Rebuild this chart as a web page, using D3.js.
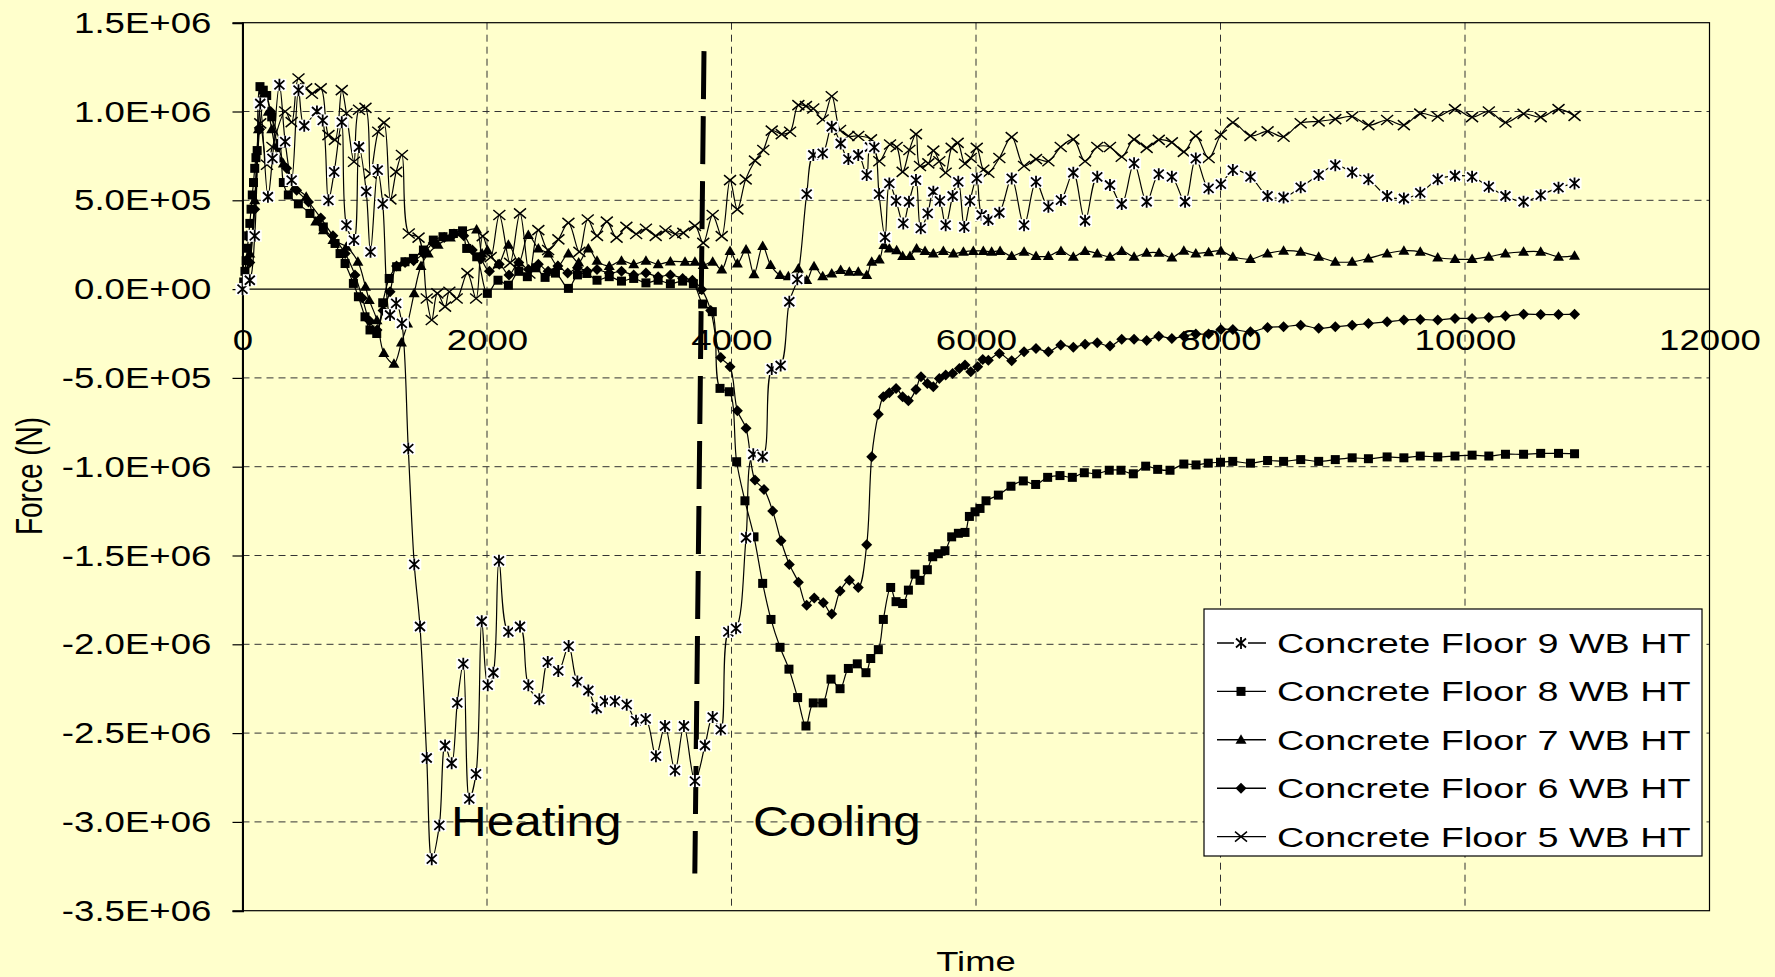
<!DOCTYPE html>
<html>
<head>
<meta charset="utf-8">
<script src="https://cdn.jsdelivr.net/npm/d3@7"></script>
<style>
  body { margin: 0; background: #ffffcc; }
  svg text { font-family: "Liberation Sans", Arial, sans-serif; fill: #000; }
</style>
</head>
<body>
<div id="chart"></div>
<script>
// forces are in units of 1E+05 N, times in s
var unit = 1e5;

var t9 = [0, 60, 100, 145, 208, 245, 302, 349, 402, 458, 505, 609, 656, 703, 750, 812, 850, 912, 953, 1012, 1047, 1106, 1147, 1207, 1257, 1304, 1356, 1405, 1452, 1507, 1548, 1610, 1657, 1711, 1757, 1806, 1855, 1910, 1957, 2006, 2052, 2098, 2175, 2270, 2338, 2428, 2497, 2583, 2668, 2739, 2829, 2897, 2965, 3047, 3143, 3219, 3298, 3382, 3456, 3538, 3611, 3701, 3783, 3846, 3912, 3974, 4037, 4119, 4178, 4255, 4329, 4402, 4473, 4538, 4615, 4669, 4746, 4820, 4893, 4956, 5037, 5106, 5133, 5168, 5207, 5256, 5291, 5346, 5405, 5452, 5509, 5548, 5605, 5651, 5705, 5752, 5809, 5855, 5904, 5951, 6006, 6046, 6101, 6191, 6292, 6393, 6491, 6592, 6695, 6796, 6892, 6992, 7096, 7192, 7293, 7396, 7495, 7602, 7710, 7798, 7903, 8003, 8101, 8245, 8385, 8516, 8656, 8803, 8939, 9077, 9210, 9363, 9500, 9634, 9777, 9918, 10058, 10195, 10331, 10479, 10619, 10765, 10896];
var f9 = [0, 0.5, 3, 10.45, 5.2, 7.36, 11.5, 8.3, 6.14, 11.2, 9.2, 10.0, 9.5, 5.0, 6.6, 9.4, 3.6, 2.76, 8.0, 5.5, 2.1, 6.7, 4.8, -1.46, -0.8, -1.93, -8.98, -15.5, -19.0, -26.4, -32.1, -30.2, -25.7, -26.7, -23.3, -21.1, -28.7, -27.3, -18.7, -22.3, -21.6, -15.3, -19.3, -19.0, -22.3, -23.1, -21.0, -21.5, -20.1, -22.1, -22.6, -23.6, -23.2, -23.2, -23.4, -24.3, -24.2, -26.3, -24.6, -27.1, -24.6, -27.7, -25.7, -24.1, -24.8, -19.3, -19.1, -14.0, -9.3, -9.44, -4.5, -4.3, -0.71, 0.55, 5.35, 7.55, 7.64, 9.14, 8.2, 7.32, 7.55, 6.42, 8.0, 7.98, 5.35, 2.91, 5.95, 4.97, 3.7, 4.92, 6.14, 3.42, 4.26, 5.48, 4.97, 3.6, 5.24, 6.04, 3.5, 4.97, 6.23, 4.17, 3.89, 4.3, 6.23, 3.6, 6.04, 4.63, 5.01, 6.55, 3.85, 6.32, 5.86, 4.79, 7.08, 4.92, 6.47, 6.32, 4.92, 7.35, 5.67, 5.91, 6.7, 6.32, 5.24, 5.16, 5.73, 6.42, 6.98, 6.57, 6.18, 5.24, 5.1, 5.42, 6.18, 6.38, 6.32, 5.76, 5.24, 4.92, 5.29, 5.71, 5.95];

var t8 = [0, 10, 20, 30, 40, 50, 60, 70, 80, 90, 100, 110, 120, 143, 170, 198, 239, 307, 334, 375, 457, 552, 661, 757, 798, 839, 907, 948, 1002, 1043, 1098, 1147, 1200, 1261, 1329, 1398, 1480, 1561, 1640, 1725, 1800, 1834, 1916, 2003, 2090, 2175, 2260, 2330, 2400, 2475, 2560, 2666, 2740, 2816, 2900, 3000, 3100, 3200, 3300, 3400, 3500, 3600, 3688, 3764, 3843, 3906, 3982, 4042, 4110, 4184, 4255, 4323, 4397, 4470, 4541, 4609, 4669, 4746, 4814, 4888, 4956, 5029, 5100, 5139, 5201, 5242, 5302, 5346, 5400, 5447, 5501, 5542, 5602, 5646, 5692, 5746, 5801, 5856, 5910, 5946, 5992, 6033, 6082, 6183, 6286, 6387, 6488, 6586, 6687, 6788, 6886, 6987, 7090, 7186, 7287, 7388, 7486, 7587, 7700, 7800, 7900, 8000, 8100, 8245, 8385, 8516, 8656, 8803, 8939, 9077, 9210, 9363, 9500, 9634, 9777, 9918, 10058, 10195, 10331, 10479, 10619, 10765, 10896];
var f8 = [0, 0.4, 1.0, 1.6, 2.3, 3.0, 3.7, 4.5, 5.3, 6.0, 6.8, 7.4, 7.8, 11.4, 11.2, 10.9, 9.7, 8.2, 6.0, 5.3, 4.8, 4.26, 3.5, 2.57, 2.0, 1.44, 0.32, -0.43, -1.56, -2.3, -2.5, -0.77, 0.6, 1.26, 1.54, 1.73, 2.2, 2.76, 2.95, 3.13, 3.28, 2.29, 1.82, -0.24, 0.5, 0.22, 1.0, 0.7, 1.2, 0.66, 0.9, 0.04, 0.8, 0.88, 0.5, 0.7, 0.45, 0.6, 0.35, 0.5, 0.3, 0.45, 0.3, -0.84, -1.27, -5.59, -5.78, -9.72, -11.92, -13.95, -16.57, -18.6, -20.17, -21.4, -23.0, -24.6, -23.3, -23.3, -21.96, -22.5, -21.36, -21.1, -21.6, -20.8, -20.3, -18.6, -16.8, -17.6, -17.7, -16.95, -16.05, -16.4, -15.8, -15.07, -14.9, -14.73, -13.95, -13.75, -13.7, -12.8, -12.54, -12.35, -11.92, -11.6, -11.1, -10.8, -11.0, -10.6, -10.5, -10.6, -10.34, -10.4, -10.2, -10.2, -10.4, -9.97, -10.15, -10.2, -9.85, -9.9, -9.8, -9.75, -9.7, -9.8, -9.65, -9.7, -9.6, -9.7, -9.6, -9.5, -9.55, -9.45, -9.5, -9.4, -9.45, -9.4, -9.35, -9.4, -9.3, -9.3, -9.25, -9.25, -9.27];

var t7 = [0, 60, 100, 130, 160, 211, 239, 293, 334, 427, 521, 599, 662, 740, 850, 944, 1006, 1037, 1100, 1156, 1239, 1300, 1350, 1404, 1460, 1520, 1600, 1700, 1800, 1915, 1960, 2003, 2090, 2175, 2260, 2338, 2420, 2502, 2580, 2666, 2750, 2829, 2900, 3000, 3100, 3200, 3300, 3400, 3500, 3620, 3701, 3769, 3846, 3920, 3988, 4048, 4119, 4184, 4255, 4320, 4397, 4465, 4547, 4615, 4675, 4746, 4820, 4893, 4964, 5037, 5106, 5147, 5209, 5247, 5291, 5351, 5400, 5460, 5514, 5583, 5651, 5733, 5815, 5897, 5978, 6060, 6128, 6197, 6292, 6393, 6491, 6592, 6695, 6796, 6892, 6992, 7096, 7192, 7293, 7396, 7497, 7602, 7700, 7798, 7903, 8003, 8101, 8245, 8385, 8516, 8656, 8803, 8939, 9077, 9210, 9363, 9500, 9634, 9777, 9918, 10058, 10195, 10331, 10479, 10619, 10765, 10896];
var f7 = [0, 2, 5, 9, 10.8, 9.98, 9.0, 7.35, 7.07, 5.76, 5.2, 3.8, 3.32, 2.76, 2.38, 1.54, 0.13, -0.62, -1.75, -3.6, -4.2, -3.0, -1.94, -0.24, 1.3, 2.0, 2.5, 2.9, 3.2, 3.36, 2.0, 2.2, 1.4, 2.5, 1.5, 3.04, 2.29, 2.0, 1.3, 2.0, 1.5, 2.29, 1.6, 1.3, 1.6, 1.4, 1.6, 1.4, 1.55, 1.54, 1.54, 1.35, 1.54, 1.1, 2.15, 1.44, 2.23, 0.84, 2.42, 1.35, 0.79, 0.73, 1.16, 0.51, 1.29, 0.73, 0.88, 1.07, 0.98, 0.98, 0.79, 1.54, 1.67, 2.48, 2.29, 2.19, 1.86, 1.86, 2.29, 2.15, 2.0, 2.15, 2.0, 2.1, 2.15, 2.15, 2.1, 2.15, 1.86, 2.1, 1.86, 1.86, 2.15, 1.82, 2.15, 2.0, 1.82, 2.15, 1.82, 2.04, 2.04, 1.78, 2.16, 2.01, 2.08, 2.16, 1.82, 1.69, 2.01, 2.16, 2.1, 1.82, 1.54, 1.54, 1.73, 2.01, 2.16, 2.1, 1.78, 1.69, 1.69, 1.82, 2.01, 2.1, 2.1, 1.82, 1.88];

var t6 = [0, 60, 100, 140, 184, 230, 290, 361, 443, 540, 640, 740, 840, 920, 980, 1040, 1100, 1150, 1207, 1260, 1330, 1400, 1480, 1560, 1650, 1730, 1810, 1880, 1950, 2020, 2100, 2180, 2260, 2340, 2420, 2500, 2580, 2660, 2740, 2820, 2900, 3000, 3100, 3200, 3300, 3400, 3500, 3600, 3680, 3756, 3830, 3912, 3988, 4048, 4119, 4192, 4266, 4337, 4405, 4473, 4547, 4615, 4677, 4751, 4820, 4888, 4964, 5037, 5106, 5147, 5201, 5242, 5291, 5346, 5400, 5447, 5509, 5550, 5602, 5651, 5700, 5752, 5809, 5864, 5910, 5957, 6014, 6055, 6101, 6191, 6292, 6393, 6491, 6592, 6693, 6796, 6892, 6992, 7096, 7192, 7293, 7396, 7495, 7602, 7700, 7798, 7903, 8003, 8101, 8245, 8385, 8516, 8656, 8803, 8939, 9077, 9210, 9363, 9500, 9634, 9777, 9918, 10058, 10195, 10331, 10479, 10619, 10765, 10896];
var f6 = [0, 1.5, 4.5, 9, 10.9, 10.0, 8.0, 6.8, 5.57, 4.9, 4.0, 3.0, 2.0, 0.8, -0.5, -1.8, -2.3, -1.2, -0.15, 1.3, 1.5, 1.6, 2.0, 2.6, 2.9, 3.1, 3.0, 2.2, 1.7, 1.0, 1.4, 0.8, 1.5, 1.1, 1.4, 1.0, 1.3, 0.9, 1.2, 1.0, 1.1, 0.9, 1.0, 0.8, 0.9, 0.7, 0.8, 0.6, 0.5, -0.02, -1.2, -3.85, -4.37, -6.85, -7.84, -10.75, -11.28, -12.5, -14.17, -15.5, -16.5, -17.8, -17.4, -17.66, -18.3, -17.0, -16.4, -16.8, -14.4, -9.44, -7.04, -6.06, -5.84, -5.59, -6.06, -6.29, -5.65, -4.94, -5.31, -5.5, -5.03, -4.84, -4.75, -4.47, -4.28, -4.66, -4.37, -3.96, -4.0, -3.62, -4.04, -3.53, -3.34, -3.53, -3.15, -3.28, -3.1, -3.02, -3.21, -2.83, -2.83, -2.9, -2.65, -2.78, -2.65, -2.53, -2.53, -2.27, -2.27, -2.4, -2.16, -2.12, -2.03, -2.21, -2.12, -2.03, -1.94, -1.84, -1.74, -1.71, -1.74, -1.65, -1.65, -1.6, -1.52, -1.41, -1.43, -1.43, -1.41];

var t5 = [0, 80, 145, 200, 245, 349, 402, 458, 521, 568, 640, 703, 756, 812, 850, 912, 953, 1006, 1047, 1110, 1157, 1210, 1257, 1304, 1360, 1440, 1507, 1548, 1594, 1657, 1692, 1752, 1840, 1911, 1965, 2030, 2101, 2189, 2270, 2347, 2420, 2500, 2584, 2666, 2756, 2824, 2900, 2980, 3060, 3140, 3220, 3300, 3380, 3460, 3540, 3606, 3701, 3769, 3846, 3920, 3988, 4048, 4116, 4192, 4260, 4329, 4411, 4479, 4547, 4609, 4669, 4746, 4820, 4888, 4956, 5037, 5141, 5209, 5297, 5351, 5400, 5455, 5509, 5542, 5610, 5651, 5700, 5752, 5801, 5850, 5910, 5957, 6006, 6060, 6101, 6191, 6292, 6393, 6491, 6592, 6693, 6796, 6892, 6992, 7096, 7192, 7293, 7396, 7495, 7602, 7700, 7798, 7903, 8003, 8101, 8245, 8385, 8516, 8656, 8803, 8939, 9077, 9210, 9363, 9500, 9634, 9777, 9918, 10058, 10195, 10331, 10479, 10619, 10765, 10896];
var f5 = [0, 3, 9.33, 7.0, 8.0, 10.0, 9.4, 11.86, 11.3, 11.0, 11.3, 8.67, 8.4, 11.2, 9.9, 7.17, 10.1, 10.2, 6.5, 8.86, 9.37, 5.05, 6.6, 7.55, 3.13, 2.9, -0.53, -1.74, -0.24, -0.99, -0.15, -0.53, 0.9, -0.53, 2.98, 1.8, 4.17, 1.48, 4.26, 0.88, 3.32, 2.2, 2.8, 3.73, 2.1, 3.92, 3.0, 3.8, 2.9, 3.5, 3.1, 3.4, 3.0, 3.3, 3.1, 3.17, 3.56, 2.6, 4.17, 2.98, 6.14, 4.49, 6.18, 7.23, 7.83, 8.92, 8.73, 8.86, 10.36, 10.3, 10.17, 9.55, 10.86, 8.96, 8.62, 8.62, 8.43, 7.2, 8.14, 8.0, 6.6, 7.83, 8.73, 6.93, 7.08, 7.8, 7.2, 6.55, 7.95, 8.23, 7.06, 7.38, 7.95, 6.72, 6.55, 7.38, 8.56, 6.93, 7.32, 7.2, 8.0, 8.43, 7.2, 8.0, 8.0, 7.45, 8.43, 7.95, 8.4, 8.26, 7.73, 8.63, 7.38, 8.69, 9.38, 8.63, 8.88, 8.58, 9.34, 9.44, 9.57, 9.72, 9.23, 9.52, 9.23, 9.88, 9.72, 10.13, 9.68, 10.0, 9.38, 9.87, 9.68, 10.13, 9.75];

var seriesNames = ["Concrete Floor 9 WB HT", "Concrete Floor 8 WB HT", "Concrete Floor 7 WB HT", "Concrete Floor 6 WB HT", "Concrete Floor 5 WB HT"];
var seriesMarkers = ["star", "square", "triangle", "diamond", "cross"];
var seriesTimes = [t9, t8, t7, t6, t5];
var seriesForces = [f9, f8, f7, f6, f5];

var yTicks = [1.5e6, 1.0e6, 5e5, 0, -5e5, -1.0e6, -1.5e6, -2.0e6, -2.5e6, -3.0e6, -3.5e6];
var xTicks = [0, 2000, 4000, 6000, 8000, 10000, 12000];

// heating / cooling split, drawn by hand in the original
var phaseLine = [[3775, 1.34e6], [3700, -3.29e6]];

var width = 1775, height = 977;
var margin = { top: 22.7, right: 65.5, bottom: 66.3, left: 242.5 };

var svg = d3
  .select("#chart")
  .append("svg")
  .attr("width", width)
  .attr("height", height);

svg.append("rect").attr("width", width).attr("height", height).attr("fill", "#ffffcc");

var x = d3.scaleLinear().domain([0, 12000]).range([margin.left, width - margin.right]);
var y = d3.scaleLinear().domain([-3.5e6, 1.5e6]).range([height - margin.bottom, margin.top]);

function sci(v) {
  if (v === 0) return "0.0E+00";
  var e = Math.floor(Math.log10(Math.abs(v)) + 1e-9);
  var m = v / Math.pow(10, e);
  return m.toFixed(1) + "E+" + String(e).padStart(2, "0");
}

// gridlines
svg
  .append("g")
  .selectAll("line")
  .data(yTicks.filter((d) => d !== 0 && d !== 1.5e6 && d !== -3.5e6))
  .join("line")
  .attr("x1", x(0))
  .attr("x2", x(12000))
  .attr("y1", (d) => y(d))
  .attr("y2", (d) => y(d))
  .attr("stroke", "#333")
  .attr("stroke-width", 1)
  .attr("stroke-dasharray", "7,5");

svg
  .append("g")
  .selectAll("line")
  .data(xTicks.slice(1, -1))
  .join("line")
  .attr("x1", (d) => x(d))
  .attr("x2", (d) => x(d))
  .attr("y1", y(1.5e6))
  .attr("y2", y(-3.5e6))
  .attr("stroke", "#333")
  .attr("stroke-width", 1)
  .attr("stroke-dasharray", "7,5");

// plot frame and zero line
svg
  .append("rect")
  .attr("x", x(0))
  .attr("y", y(1.5e6))
  .attr("width", x(12000) - x(0))
  .attr("height", y(-3.5e6) - y(1.5e6))
  .attr("fill", "none")
  .attr("stroke", "#000")
  .attr("stroke-width", 1.2);

svg
  .append("line")
  .attr("x1", x(0))
  .attr("x2", x(12000))
  .attr("y1", y(0))
  .attr("y2", y(0))
  .attr("stroke", "#000")
  .attr("stroke-width", 1.2);

// Y axis
var yAxis = svg
  .append("g")
  .attr("transform", "translate(" + x(0) + ",0)")
  .call(d3.axisLeft(y).tickValues(yTicks).tickFormat(sci).tickSize(10).tickPadding(15.5));
yAxis.select(".domain").attr("stroke", "#000").attr("stroke-width", 2);
yAxis.selectAll(".tick line").attr("stroke", "#000").attr("stroke-width", 1.2);
yAxis
  .selectAll("text")
  .attr("transform", "scale(1.22,1)")
  .style("font-size", "30px")
  .style("font-family", '"Liberation Sans", Arial, sans-serif');

// X axis labels sit under the zero line
var xAxis = svg
  .append("g")
  .attr("transform", "translate(0," + y(0) + ")")
  .call(d3.axisBottom(x).tickValues(xTicks).tickFormat(d3.format("d")).tickSize(0).tickPadding(40));
xAxis.select(".domain").remove();
xAxis
  .selectAll("text")
  .attr("transform", "scale(1.22,1)")
  .style("font-size", "30px")
  .style("font-family", '"Liberation Sans", Arial, sans-serif');

// axis titles
svg
  .append("text")
  .attr("transform", "translate(976,971) scale(1.3,1)")
  .attr("text-anchor", "middle")
  .style("font-size", "28px")
  .text("Time");

svg
  .append("text")
  .attr("transform", "translate(42,476) rotate(-90) scale(1,1.33)")
  .attr("text-anchor", "middle")
  .style("font-size", "28px")
  .text("Force (N)");

// phase split and labels
svg
  .append("line")
  .attr("x1", x(phaseLine[0][0]))
  .attr("y1", y(phaseLine[0][1]))
  .attr("x2", x(phaseLine[1][0]))
  .attr("y2", y(phaseLine[1][1]))
  .attr("stroke", "#000")
  .attr("stroke-width", 5)
  .attr("stroke-dasharray", "48,17");

svg
  .append("text")
  .attr("transform", "translate(451,836) scale(1.15,1)")
  .style("font-size", "43px")
  .text("Heating");

svg
  .append("text")
  .attr("transform", "translate(753,836) scale(1.15,1)")
  .style("font-size", "43px")
  .text("Cooling");

// markers
function drawMarker(g, type) {
  if (type === "square") {
    g.append("rect").attr("x", -4.5).attr("y", -4.5).attr("width", 9).attr("height", 9).attr("fill", "#000");
  } else if (type === "triangle") {
    g.append("path").attr("d", "M0,-5.5L5.5,4L-5.5,4Z").attr("fill", "#000");
  } else if (type === "diamond") {
    g.append("path").attr("d", "M0,-5.5L5.5,0L0,5.5L-5.5,0Z").attr("fill", "#000");
  } else if (type === "cross") {
    g.append("path")
      .attr("d", "M-6,-5L6,5M-6,5L6,-5")
      .attr("stroke", "#000")
      .attr("stroke-width", 1.5)
      .attr("fill", "none");
  } else if (type === "star") {
    g.append("rect").attr("x", -7).attr("y", -6).attr("width", 14).attr("height", 12).attr("fill", "#fff");
    g.append("path")
      .attr("d", "M-5,-4.5L5,4.5M-5,4.5L5,-4.5M0,-6L0,6")
      .attr("stroke", "#000")
      .attr("stroke-width", 1.8)
      .attr("fill", "none");
  }
}

var line = d3
  .line()
  .x((d) => x(d[0]))
  .y((d) => y(d[1] * unit))
  .curve(d3.curveCatmullRom.alpha(0.5));

var plot = svg.append("g");

// floor 5 first so floor 9 ends up on top
d3.range(seriesNames.length)
  .reverse()
  .forEach(function (i) {
    var pts = seriesTimes[i].map((t, k) => [t, seriesForces[i][k]]);
    var g = plot.append("g");
    g.append("path")
      .datum(pts)
      .attr("d", line)
      .attr("fill", "none")
      .attr("stroke", "#000")
      .attr("stroke-width", 1.2);
    g.selectAll("g.m")
      .data(pts)
      .join("g")
      .attr("class", "m")
      .attr("transform", (d) => "translate(" + x(d[0]) + "," + y(d[1] * unit) + ")")
      .each(function () {
        drawMarker(d3.select(this), seriesMarkers[i]);
      });
  });

// legend
var legend = svg.append("g");
legend
  .append("rect")
  .attr("x", 1204)
  .attr("y", 609)
  .attr("width", 498)
  .attr("height", 247)
  .attr("fill", "#fff")
  .attr("stroke", "#000")
  .attr("stroke-width", 1.2);

seriesNames.forEach(function (name, i) {
  var ry = 643 + i * 48.4;
  var row = legend.append("g").attr("transform", "translate(0," + ry + ")");
  row
    .append("line")
    .attr("x1", 1217)
    .attr("x2", 1266)
    .attr("stroke", "#000")
    .attr("stroke-width", 1.4);
  drawMarker(row.append("g").attr("transform", "translate(1241,0)"), seriesMarkers[i]);
  row
    .append("text")
    .attr("transform", "translate(1277,10) scale(1.35,1)")
    .style("font-size", "28px")
    .text(name);
});
</script>
</body>
</html>
